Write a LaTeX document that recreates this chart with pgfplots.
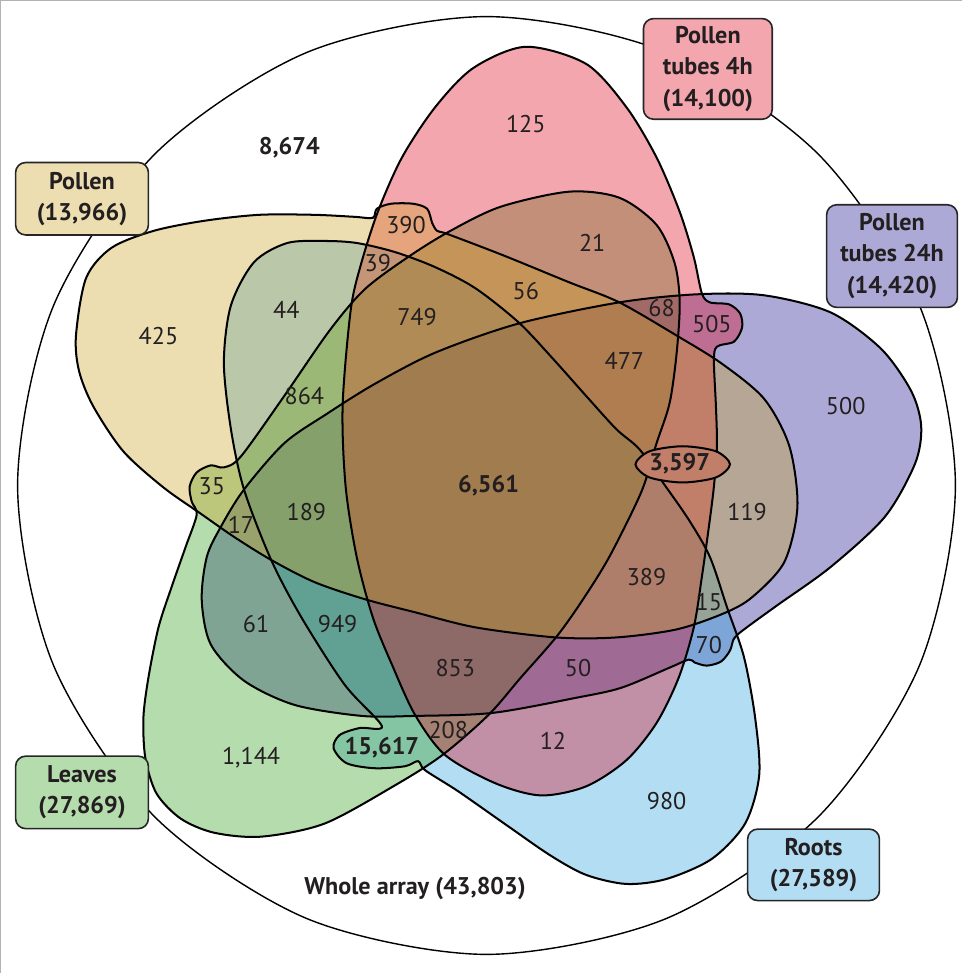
\documentclass[border=0pt]{standalone}
\usepackage{pgfplots}
\pgfplotsset{compat=1.18}
\usepackage{pgfplotstable}
\usepackage{fontspec}
\setmainfont{PT Sans}

% single-set (light) colours
\definecolor{tPink}{RGB}{244,166,174}
\definecolor{tYellow}{RGB}{236,222,177}
\definecolor{tGreen}{RGB}{181,220,173}
\definecolor{tBlue}{RGB}{179,221,242}
\definecolor{tLav}{RGB}{173,169,214}
% fill colours used at opacity 0.35
\definecolor{cPink}{RGB}{224,1,24}
\definecolor{cYellow}{RGB}{201,160,32}
\definecolor{cGreen}{RGB}{44,155,21}
\definecolor{cBlue}{RGB}{38,158,218}
\definecolor{cLav}{RGB}{21,9,138}
\definecolor{txt}{RGB}{35,31,32}

\pgfplotstableread{
x y
957 489
921.5 667.3
820.5 818.5
669.3 919.5
491 955
312.7 919.5
161.5 818.5
60.5 667.3
25 489
60.5 310.7
161.5 159.5
312.7 58.5
491 23
669.3 58.5
820.5 159.5
921.5 310.7
}\circleshape

\pgfplotstableread{
x y
530 53
590 70
630 113
660 163
683 217
697 262
705 298
713 307
732 309
743 318
745 332
737 346
720 351
717 365
719 410
720 450
717 490
712 530
705 580
697 630
682 680
660 725
630 762
590 788
545 797
500 785
450 757
420 717
397 667
378 620
362 560
351 490
348 410
356 315
366 270
383 217
407 163
440 113
478 74
}\pinkshape

\pgfplotstableread{
x y
83 340
93 283
118 253
160 236
210 226
265 220
320 220
360 222
378 223
382 214
396 209
418 209
432 214
437 228
442 236
452 239
507 260
573 287
623 307
680 340
725 368
767 403
792 450
800 510
787 565
755 600
727 616
680 632
620 640
560 640
480 630
420 615
370 602
320 585
277 563
240 540
207 517
170 491
130 455
100 410
86 375
}\yellowshape

\pgfplotstableread{
x y
267 838
220 834
187 820
163 795
152 760
150 720
155 680
165 630
178 590
192 550
203 518
198 505
196 490
203 476
217 469
230 471
247 460
290 400
335 335
370 294
413 262
455 236
505 212
573 197
623 203
660 230
678 268
683 307
680 357
673 407
660 447
645 495
613 560
585 605
560 640
525 680
493 717
447 757
400 787
330 825
}\greenshape

\pgfplotstableread{
x y
293 248
330 246
362 248
400 257
440 272
480 293
523 327
557 363
590 400
620 433
643 453
667 487
692 523
713 560
730 610
747 660
758 720
762 777
748 825
715 860
670 880
630 885
590 876
555 857
513 828
463 793
430 772
423 763
410 768
380 770
352 765
339 750
345 737
365 730
387 728
350 687
307 620
277 563
250 493
237 433
230 367
237 310
260 267
}\blueshape

\pgfplotstableread{
x y
213 560
227 530
250 493
290 447
332 418
380 388
440 357
523 328
623 307
700 299
767 300
833 317
883 353
913 395
923 430
917 467
887 520
833 570
780 608
747 632
737 641
733 653
724 664
710 668
698 665
692 662
673 670
625 690
580 700
497 715
420 718
367 718
300 707
250 683
217 647
208 603
}\lavshape

\pgfplotstableread{
x y
639 468
653 455
686 450
719 455
733 468
719 481
686 486
653 481
}\bubbleshape

\pgfplotstableread{
x y label
530 130 125
411 230 390
596 248 21
165 340 425
292 315 44
383 268 39
530 296 56
422 322 749
665 313 68
715 329 505
628 365 477
848 410 500
310 400 864
218 490 35
247 528 17
312 515 189
750 515 119
650 580 389
712 605 15
712 648 70
262 627 61
343 627 949
460 670 853
582 670 50
453 732 208
557 743 12
257 760 1,144
670 803 980
}\numlabels

\pgfplotstableread{
x y label
295 153 8,674
493 489 6,561
683 467 3,597
387 750 15,617
}\boldlabels

\begin{document}
\begin{tikzpicture}
\begin{axis}[
  width=482pt, height=486.5pt, scale only axis,
  xmin=0, xmax=964, ymin=0, ymax=973, y dir=reverse,
  hide axis, clip=false,
]
% frame lines
\addplot[color=black!30, line width=0.5pt] coordinates {(8,973) (8,7) (964,7)};
% whole array circle
\addplot[draw=black, line width=0.7pt, smooth cycle] table {\circleshape};
% set fills, bottom to top
\addplot[draw=none, fill=cLav, fill opacity=0.35, smooth cycle] table {\lavshape};
\addplot[draw=none, fill=cBlue, fill opacity=0.35, smooth cycle] table {\blueshape};
\addplot[draw=none, fill=cGreen, fill opacity=0.35, smooth cycle] table {\greenshape};
\addplot[draw=none, fill=cPink, fill opacity=0.35, smooth cycle] table {\pinkshape};
\addplot[draw=none, fill=cYellow, fill opacity=0.35, smooth cycle] table {\yellowshape};
% outlines
\addplot[draw=black, line width=1pt, smooth cycle] table {\lavshape};
\addplot[draw=black, line width=1pt, smooth cycle] table {\blueshape};
\addplot[draw=black, line width=1pt, smooth cycle] table {\greenshape};
\addplot[draw=black, line width=1pt, smooth cycle] table {\pinkshape};
\addplot[draw=black, line width=1pt, smooth cycle] table {\yellowshape};
% 3,597 bubble
\addplot[draw=none, fill=white, smooth cycle] table {\bubbleshape};
\addplot[draw=none, fill=cLav, fill opacity=0.35, smooth cycle] table {\bubbleshape};
\addplot[draw=none, fill=cPink, fill opacity=0.35, smooth cycle] table {\bubbleshape};
\addplot[draw=none, fill=cYellow, fill opacity=0.35, smooth cycle] table {\bubbleshape};
\addplot[draw=black, line width=1pt, smooth cycle] table {\bubbleshape};
% counts
\addplot[draw=none, mark=none, nodes near coords, point meta=explicit symbolic,
  every node near coord/.style={anchor=center, inner sep=0pt, text=txt, font=\fontsize{12}{14}\selectfont}]
  table[meta=label] {\numlabels};
\addplot[draw=none, mark=none, nodes near coords, point meta=explicit symbolic,
  every node near coord/.style={anchor=center, inner sep=0pt, text=txt, font=\fontsize{12}{14}\selectfont\bfseries}]
  table[meta=label] {\boldlabels};
\node[text=txt, font=\fontsize{12}{14}\selectfont\bfseries] at (axis cs:420,890) {Whole array (43,803)};
% set labels
\tikzset{setbox/.style={draw=black!85, line width=0.8pt, rounded corners=5pt, align=center, text=txt,
  font=\fontsize{12}{15.5}\selectfont\bfseries, inner sep=0pt}}
\node[setbox, fill=tYellow, minimum width=66pt, minimum height=36pt] at (axis cs:89,204) {Pollen\\(13,966)};
\node[setbox, fill=tPink, minimum width=64pt, minimum height=50pt] at (axis cs:711,75) {Pollen\\tubes 4h\\(14,100)};
\node[setbox, fill=tLav, minimum width=65pt, minimum height=51pt] at (axis cs:894,261) {Pollen\\tubes 24h\\(14,420)};
\node[setbox, fill=tGreen, minimum width=66pt, minimum height=36pt] at (axis cs:89,794) {Leaves\\(27,869)};
\node[setbox, fill=tBlue, minimum width=65.5pt, minimum height=35.5pt] at (axis cs:816,866) {Roots\\(27,589)};
\end{axis}
\end{tikzpicture}
\end{document}
